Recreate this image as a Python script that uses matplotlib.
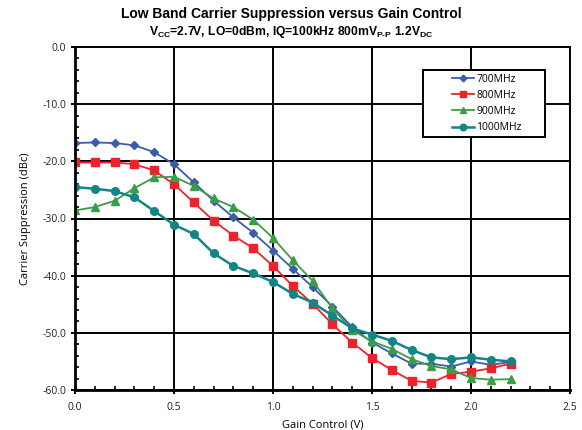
import matplotlib
matplotlib.use("Agg")
import matplotlib.pyplot as plt
from matplotlib.patches import Rectangle
from matplotlib.ticker import MultipleLocator, FormatStrFormatter

gain_v = [0.0, 0.1, 0.2, 0.3, 0.4, 0.5, 0.6, 0.7, 0.8, 0.9, 1.0, 1.1,
          1.2, 1.3, 1.4, 1.5, 1.6, 1.7, 1.8, 1.9, 2.0, 2.1, 2.2]

s700 = [-16.8, -16.7, -16.8, -17.2, -18.4, -20.5, -23.7, -26.9, -29.8, -32.5, -35.6, -38.8,
        -42.0, -45.4, -49.0, -51.7, -53.6, -55.4, -55.4, -55.9, -55.0, -55.6, -55.1]
s800 = [-20.2, -20.2, -20.2, -20.5, -21.6, -24.0, -27.2, -30.4, -33.0, -35.2, -38.3, -41.8,
        -44.9, -48.5, -51.7, -54.4, -56.5, -58.4, -58.7, -57.2, -56.8, -56.2, -55.4]
s900 = [-28.6, -28.0, -26.9, -24.7, -22.8, -22.7, -24.3, -26.5, -28.0, -30.2, -33.4, -37.3,
        -40.9, -45.7, -49.5, -51.5, -52.8, -54.6, -55.8, -56.4, -57.9, -58.2, -58.1]
s1000 = [-24.5, -24.8, -25.2, -26.3, -28.7, -31.1, -32.7, -36.1, -38.3, -39.6, -41.1, -43.2,
         -44.7, -47.0, -49.2, -50.3, -51.4, -53.0, -54.3, -54.6, -54.3, -54.7, -55.0]

labels = ["700MHz", "800MHz", "900MHz", "1000MHz"]

plt.rcParams['mathtext.fontset'] = 'custom'
plt.rcParams['mathtext.rm'] = 'Liberation Sans:bold'
plt.rcParams['mathtext.bf'] = 'Liberation Sans:bold'
plt.rcParams['mathtext.it'] = 'Liberation Sans:bold'

W, H = 582, 430
fig = plt.figure(figsize=(W/100, H/100), dpi=100)
ax = fig.add_axes([75/W, 1-390/H, (570-75)/W, (390-47)/H])

styles = [
    dict(color="#3a5caa", marker="D", markersize=4, lw=1.3),
    dict(color="#ee2229", marker="s", markersize=5.5, lw=1.3),
    dict(color="#3c9c48", marker="^", markersize=5.5, lw=1.3),
    dict(color="#128585", marker="o", markersize=5.5, lw=1.8),
]
for ys, lab, st in zip([s700, s800, s900, s1000], labels, styles):
    ax.plot(gain_v, ys, label=lab, **st)

ax.set_xlim(0, 2.5)
ax.set_ylim(-60, 0)
ax.xaxis.set_major_locator(MultipleLocator(0.5))
ax.xaxis.set_minor_locator(MultipleLocator(0.1))
ax.yaxis.set_major_locator(MultipleLocator(10))
ax.yaxis.set_minor_locator(MultipleLocator(2))
ax.xaxis.set_major_formatter(FormatStrFormatter('%.1f'))
ax.yaxis.set_major_formatter(FormatStrFormatter('%.1f'))
ax.grid(True, which='major', color='black', lw=1.4)
ax.set_axisbelow(True)
for s in ax.spines.values():
    s.set_linewidth(1.4)
ax.spines['bottom'].set_linewidth(2)
ax.spines['left'].set_linewidth(2)
ax.tick_params(which='major', direction='inout', length=6, width=1.4, labelsize=7.5,
               labelcolor='#222222', colors='black')
ax.tick_params(which='minor', direction='in', length=3, width=1.2)
for lbl in ax.get_xticklabels() + ax.get_yticklabels():
    lbl.set_family('Open Sans')
ax.tick_params(axis='x', pad=6)

ax.set_xlabel("Gain Control (V)", fontsize=8, family='Open Sans', labelpad=4)
ax.set_ylabel("Carrier Suppression (dBc)", fontsize=8, family='Open Sans', labelpad=8)

# legend frame box
x0, y0, x1, y1 = 423, 70, 545, 137
fig.patches.append(Rectangle((x0/W, 1-y1/H), (x1-x0)/W, (y1-y0)/H, transform=fig.transFigure,
                             facecolor='white', edgecolor='black', lw=1.4, zorder=5))
leg = fig.legend(loc='center', bbox_to_anchor=((x0+x1)/2/W + 3/W, 1-(y0+y1)/2/H), frameon=False,
                 prop={'family': 'Open Sans', 'size': 7.5},
                 handlelength=2.1, labelspacing=0.5,
                 borderpad=0, handletextpad=0.2, borderaxespad=0, markerscale=0.85)
leg.set_zorder(6)

fig.text(0.5, 1-14/H, "Low Band Carrier Suppression versus Gain Control",
         ha='center', va='center', fontsize=10, fontweight='bold', family='Liberation Sans')
fig.text(0.5, 1-32/H,
         r"V$_{\mathrm{CC}}$=2.7V, LO=0dBm, IQ=100kHz 800mV$_{\text{P-P}}$ 1.2V$_{\mathrm{DC}}$",
         ha='center', va='center', fontsize=8.7, fontweight='bold', family='Liberation Sans')

fig.savefig("out.png", dpi=100)
